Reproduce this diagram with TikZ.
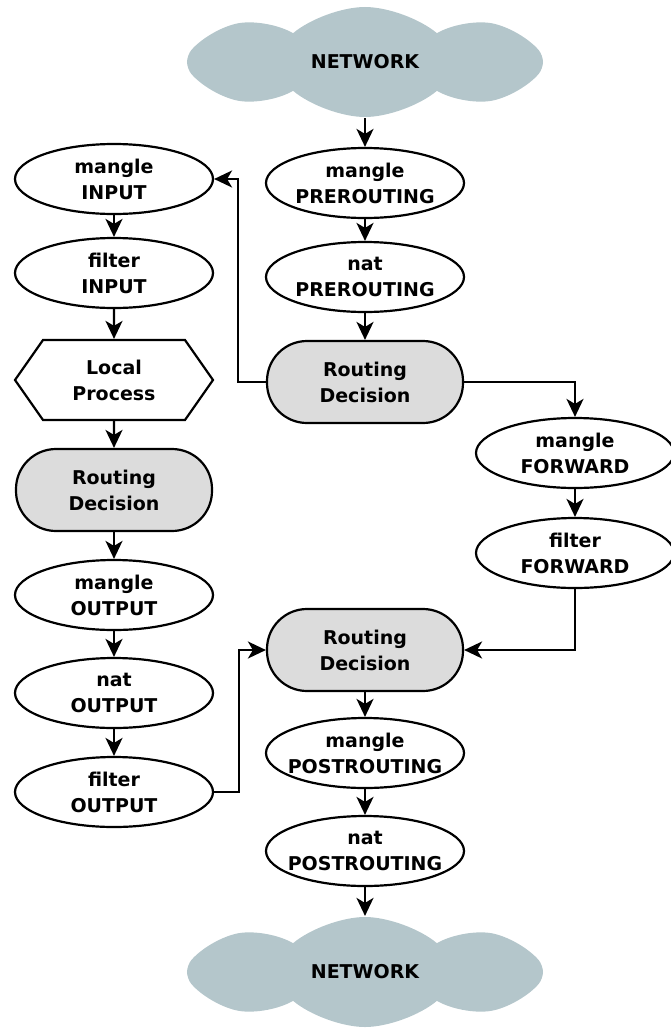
\documentclass[tikz,border=0pt]{standalone}
\usepackage{fontspec}
\setmainfont{DejaVu Sans}
\usetikzlibrary{shapes.geometric,shapes.symbols,arrows.meta}
\definecolor{cloudgrey}{RGB}{180,198,203}
\definecolor{decisiongrey}{RGB}{220,220,220}

\begin{document}
\begin{tikzpicture}[
        x=1pt, y=-1pt,
        font=\bfseries\fontsize{19}{26}\selectfont,
        every node/.style={align=center, line width=2.2pt},
        chain/.style={draw, ellipse, minimum width=198pt, minimum height=70pt, inner xsep=-40pt, inner ysep=-4pt},
        decision/.style={draw, fill=decisiongrey, rounded corners=40pt, minimum width=196pt, minimum height=82pt},
        process/.style={draw, signal, signal to=east and west, signal pointer angle=110, minimum width=198pt, minimum height=80pt},
        network/.style={cloud, fill=cloudgrey, cloud puffs=8, cloud puff arc=80, aspect=3.3, minimum width=356pt, minimum height=110pt},
        flow/.style={-{Stealth[length=18pt,width=17pt,inset=5pt]}, line width=2.2pt}
    ]
    \useasboundingbox (0,0) rectangle (671,1028);

    % left column
    \node[chain] (mangleinput) at (114,179) {mangle\\INPUT};
    \node[chain] (filterinput) at (114,273) {filter\\INPUT};
    \node[process] (localproc) at (114,380) {Local\\Process};
    \node[decision] (routelocal) at (114,490) {Routing\\Decision};
    \node[chain] (mangleoutput) at (114,595) {mangle\\OUTPUT};
    \node[chain] (natoutput) at (114,693) {nat\\OUTPUT};
    \node[chain] (filteroutput) at (114,792) {filter\\OUTPUT};

    % middle column
    \node[network] (netin) at (365,62) {NETWORK};
    \node[chain] (manglepre) at (365,183) {mangle\\PREROUTING};
    \node[chain] (natpre) at (365,277) {nat\\PREROUTING};
    \node[decision] (routein) at (365,382) {Routing\\Decision};
    \node[decision] (routeout) at (365,650) {Routing\\Decision};
    \node[chain] (manglepost) at (365,753) {mangle\\POSTROUTING};
    \node[chain] (natpost) at (365,851) {nat\\POSTROUTING};
    \node[network] (netout) at (365,972) {NETWORK};

    % right column
    \node[chain] (manglefwd) at (575,453) {mangle\\FORWARD};
    \node[chain] (filterfwd) at (575,553) {filter\\FORWARD};

    % connectors
    \draw[flow] (netin) -- (manglepre);
    \draw[flow] (manglepre) -- (natpre);
    \draw[flow] (natpre) -- (routein);
    \draw[flow] (routein.west) -- ++(-28,0) |- (mangleinput.east);
    \draw[flow] (routein.east) -| (manglefwd.north);
    \draw[flow] (mangleinput) -- (filterinput);
    \draw[flow] (filterinput) -- (localproc);
    \draw[flow] (localproc) -- (routelocal);
    \draw[flow] (routelocal) -- (mangleoutput);
    \draw[flow] (mangleoutput) -- (natoutput);
    \draw[flow] (natoutput) -- (filteroutput);
    \draw[flow] (manglefwd) -- (filterfwd);
    \draw[flow] (filterfwd.south) |- (routeout.east);
    \draw[flow] (filteroutput.east) -- ++(25,0) |- (routeout.west);
    \draw[flow] (routeout) -- (manglepost);
    \draw[flow] (manglepost) -- (natpost);
    \draw[flow] (natpost) -- (netout);
\end{tikzpicture}
\end{document}
